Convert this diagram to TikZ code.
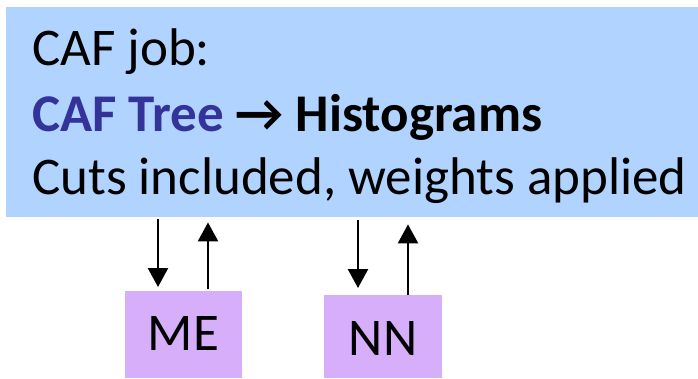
\documentclass[tikz,border=0pt]{standalone}
\usepackage{fontspec}
\setmainfont{Carlito}
\usetikzlibrary{arrows.meta,calc}
\definecolor{cafblue}{RGB}{176,212,255}
\definecolor{boxpurple}{RGB}{214,174,250}
\definecolor{treeblue}{RGB}{51,51,153}
\tikzset{
  arr/.style={line width=2.5pt,-{Triangle[width=20pt,length=19pt]}},
  txt/.style={anchor=base west,inner sep=0pt,font=\fontsize{53}{64}\selectfont},
  smallbox/.style={fill=boxpurple,draw=none,inner sep=0pt}
}
\begin{document}
\begin{tikzpicture}[x=1pt,y=-1pt]
\useasboundingbox (0,0) rectangle (698,378);
\node[fill=cafblue,draw=none,minimum width=692pt,minimum height=210pt,inner sep=0pt,anchor=north west] (caf) at (6,7) {};
\node[txt] (l1) at (32,65) {CAF job:};
\node[txt] (l2) at (32,131) {\textbf{\textcolor{treeblue}{CAF Tree}} \textbf{→} \textbf{Histograms}};
\node[txt] (l3) at (32,194) {Cuts included, weights applied};
\node[smallbox,minimum width=117pt,minimum height=87pt,anchor=north west] (me) at (125,291) {};
\node[txt,anchor=base] (metxt) at (183.5,350) {ME};
\node[smallbox,minimum width=118pt,minimum height=83pt,anchor=north west] (nn) at (324,295) {};
\node[txt,anchor=base] (nntxt) at (383,355) {NN};
\draw[arr] ([yshift=-2pt]caf.south -| 158,0) -- ([yshift=4pt]me.north -| 158,0);
\draw[arr] ([yshift=2pt]me.north -| 208,0) -- ([yshift=-5pt]caf.south -| 208,0);
\draw[arr] ([yshift=-3pt]caf.south -| 358,0) -- ([yshift=7pt]nn.north -| 358,0);
\draw[arr] (nn.north -| 408,0) -- ([yshift=-7pt]caf.south -| 408,0);
\end{tikzpicture}
\end{document}
